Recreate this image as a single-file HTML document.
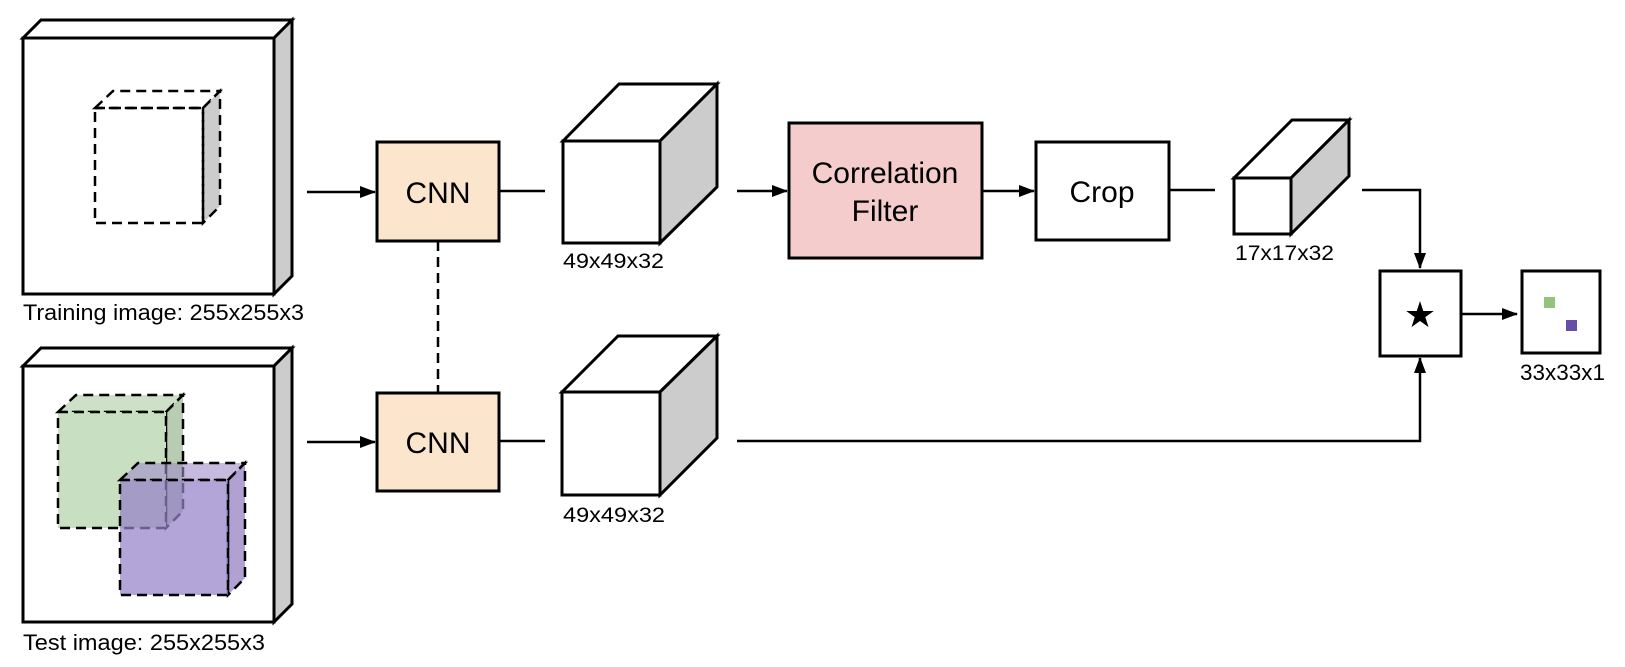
<!DOCTYPE html>
<html><head><meta charset="utf-8"><style>
html,body{margin:0;padding:0;background:#fff;}
svg{display:block;}
text{font-family:"Liberation Sans",Arial,sans-serif;fill:#000;}
</style></head><body>
<svg width="1625" height="667" viewBox="0 0 1625 667" xmlns="http://www.w3.org/2000/svg">
<defs>
<marker id="ah" markerWidth="16" markerHeight="12" refX="15" refY="6" orient="auto" markerUnits="userSpaceOnUse">
<path d="M0,0 L16,6 L0,12 Z" fill="#000"/>
</marker>
</defs>
<g stroke="#000" stroke-width="3" stroke-linejoin="miter">
<polygon points="23,38 41,20 292,20 274,38" fill="#fff"/>
<polygon points="274,38 292,20 292,276 274,294" fill="#ccc"/>
<rect x="23" y="38" width="251" height="256" fill="#fff"/>
<g stroke-dasharray="10,6" stroke-width="2.5">
<polygon points="95,108 113,91 220,91 203,108" fill="#fff"/>
<polygon points="203,108 220,91 220,206 203,223" fill="#ccc"/>
<rect x="95" y="108" width="108" height="115" fill="none"/>
</g>
<polygon points="23,366 41,348 292,348 274,366" fill="#fff"/>
<polygon points="274,366 292,348 292,604 274,622" fill="#ccc"/>
<rect x="23" y="366" width="251" height="256" fill="#fff"/>
<g stroke-dasharray="10,6" stroke-width="2.5">
<polygon points="58,412 76,395 183,395 166,412" fill="#cfe0c8"/>
<polygon points="166,412 183,395 183,511 166,528" fill="#b7ccb0"/>
<rect x="58" y="412" width="108" height="116" fill="#c9dfc2"/>
<polygon points="120,480 138,463 245,463 228,480" fill="rgba(160,140,200,0.6)"/>
<polygon points="228,480 245,463 245,578 228,595" fill="rgba(150,130,195,0.75)"/>
<rect x="120" y="480" width="108" height="115" fill="rgba(150,130,200,0.72)"/>
</g>
<rect x="377" y="142" width="122" height="99" fill="#fce5cd"/>
<rect x="377" y="393" width="122" height="98" fill="#fce5cd"/>
<line x1="438" y1="241" x2="438" y2="393" stroke-dasharray="10,6" stroke-width="2.5"/>
<line x1="307" y1="192" x2="375" y2="192" stroke-width="2.5" marker-end="url(#ah)"/>
<line x1="307" y1="442" x2="375" y2="442" stroke-width="2.5" marker-end="url(#ah)"/>
<line x1="499" y1="191" x2="545" y2="191" stroke-width="2.5"/>
<line x1="499" y1="441" x2="545" y2="441" stroke-width="2.5"/>
<polygon points="563,141 619,84 717,84 660,141" fill="#fff"/>
<polygon points="660,141 717,84 717,187 660,243" fill="#ccc"/>
<rect x="563" y="141" width="97" height="102" fill="#fff"/>
<polygon points="562,392 618,336 717,336 660,392" fill="#fff"/>
<polygon points="660,392 717,336 717,438 660,495" fill="#ccc"/>
<rect x="562" y="392" width="98" height="103" fill="#fff"/>
<line x1="737" y1="191" x2="787" y2="191" stroke-width="2.5" marker-end="url(#ah)"/>
<rect x="789" y="123" width="193" height="135" fill="#f4cccc"/>
<line x1="982" y1="191" x2="1034" y2="191" stroke-width="2.5" marker-end="url(#ah)"/>
<rect x="1036" y="142" width="133" height="98" fill="#fff"/>
<line x1="1169" y1="190" x2="1215" y2="190" stroke-width="2.5"/>
<polygon points="1234,178 1292,120 1349,120 1291,178" fill="#fff"/>
<polygon points="1291,178 1349,120 1349,176 1291,234" fill="#ccc"/>
<rect x="1234" y="178" width="57" height="56" fill="#fff"/>
<polyline points="1362,190 1420,190 1420,268" fill="none" stroke-width="2.5" marker-end="url(#ah)"/>
<polyline points="737,441 1420,441 1420,358" fill="none" stroke-width="2.5" marker-end="url(#ah)"/>
<rect x="1380" y="271" width="81" height="85" fill="#fff"/>
<line x1="1461" y1="314" x2="1517" y2="314" stroke-width="2.5" marker-end="url(#ah)"/>
<rect x="1522" y="271" width="78" height="82" fill="#fff"/>
</g>
<rect x="1544" y="297" width="11" height="11" fill="#93c47d"/>
<rect x="1566" y="320" width="11" height="11" fill="#674ea7"/>
<text x="1420" y="327" font-size="36" text-anchor="middle">★</text>
<text x="438" y="203" font-size="30" text-anchor="middle">CNN</text>
<text x="438" y="453" font-size="30" text-anchor="middle">CNN</text>
<text x="885" y="183" font-size="30" text-anchor="middle">Correlation</text>
<text x="885" y="221" font-size="30" text-anchor="middle">Filter</text>
<text x="1102" y="202" font-size="30" text-anchor="middle">Crop</text>
<text x="23" y="320" font-size="22" textLength="281" lengthAdjust="spacingAndGlyphs">Training image: 255x255x3</text>
<text x="23" y="650" font-size="22" textLength="242" lengthAdjust="spacingAndGlyphs">Test image: 255x255x3</text>
<text x="563" y="268" font-size="21" textLength="101" lengthAdjust="spacingAndGlyphs">49x49x32</text>
<text x="563" y="522" font-size="21" textLength="102" lengthAdjust="spacingAndGlyphs">49x49x32</text>
<text x="1235" y="260" font-size="21" textLength="99" lengthAdjust="spacingAndGlyphs">17x17x32</text>
<text x="1520" y="380" font-size="22" textLength="85" lengthAdjust="spacingAndGlyphs">33x33x1</text>
</svg>
</body></html>
